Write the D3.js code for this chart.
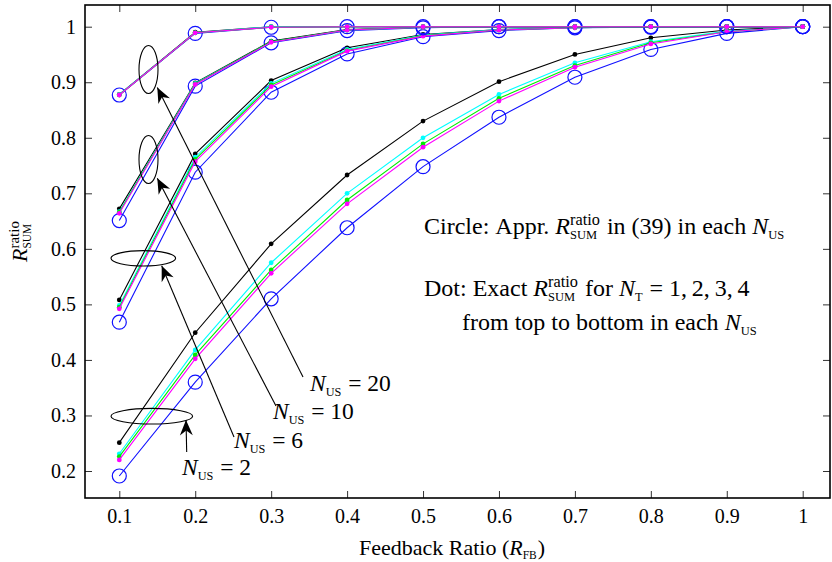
<!DOCTYPE html>
<html>
<head>
<meta charset="utf-8">
<script src="https://cdn.jsdelivr.net/npm/d3@7"></script>
<style>
  body { margin: 0; background: #fff; }
  svg text { font-family: "Liberation Serif", "Tinos", "DejaVu Serif", serif !important; fill: #000; }
</style>
</head>
<body>
<svg id="chart" width="832" height="562"></svg>
<script>
// feedback ratio on the x axis
var feedbackRatio = [0.1, 0.2, 0.3, 0.4, 0.5, 0.6, 0.7, 0.8, 0.9, 1.0];
var yTicks = [0.2, 0.3, 0.4, 0.5, 0.6, 0.7, 0.8, 0.9, 1.0];

// exact values, rows are N_T = 1,2,3,4
var exactNus2 = [
  [0.251, 0.449, 0.609, 0.733, 0.830, 0.901, 0.950, 0.980, 0.994, 1],
  [0.231, 0.418, 0.575, 0.700, 0.800, 0.878, 0.935, 0.973, 0.992, 1],
  [0.226, 0.409, 0.562, 0.688, 0.789, 0.871, 0.930, 0.971, 0.991, 1],
  [0.220, 0.402, 0.556, 0.681, 0.783, 0.866, 0.927, 0.969, 0.991, 1]
];
var exactNus6 = [
  [0.508, 0.771, 0.903, 0.962, 0.986, 0.995, 0.999, 1, 1, 1],
  [0.498, 0.765, 0.898, 0.959, 0.985, 0.995, 0.998, 1, 1, 1],
  [0.495, 0.761, 0.895, 0.957, 0.984, 0.994, 0.998, 1, 1, 1],
  [0.492, 0.757, 0.892, 0.956, 0.983, 0.994, 0.998, 1, 1, 1]
];
var exactNus10 = [
  [0.672, 0.899, 0.974, 0.995, 0.999, 1, 1, 1, 1, 1],
  [0.667, 0.898, 0.973, 0.994, 0.999, 1, 1, 1, 1, 1],
  [0.666, 0.897, 0.973, 0.994, 0.999, 1, 1, 1, 1, 1],
  [0.664, 0.896, 0.972, 0.994, 0.999, 1, 1, 1, 1, 1]
];
var exactNus20 = [
  [0.878, 0.990, 1.000, 1, 1, 1, 1, 1, 1, 1],
  [0.878, 0.989, 1.000, 1, 1, 1, 1, 1, 1, 1],
  [0.877, 0.989, 0.999, 1, 1, 1, 1, 1, 1, 1],
  [0.877, 0.989, 0.999, 1, 1, 1, 1, 1, 1, 1]
];

// approximation (39)
var approxNus2  = [0.191, 0.360, 0.510, 0.638, 0.748, 0.837, 0.909, 0.959, 0.988, 1];
var approxNus6  = [0.468, 0.738, 0.882, 0.951, 0.982, 0.993, 0.998, 0.999, 1, 1];
var approxNus10 = [0.651, 0.893, 0.971, 0.993, 0.998, 1, 1, 1, 1, 1];
var approxNus20 = [0.877, 0.988, 0.999, 1, 1, 1, 1, 1, 1, 1];

var exactColors = ["#000000", "#00ffff", "#00ee00", "#ff00ff"];
var approxColor = "#1010ff";

var svg = d3.select("#chart");
var serif = '"Liberation Serif", "Tinos", "DejaVu Serif", serif';

// plot box
var box = {left: 85, right: 830, top: 5, bottom: 498};
var x = d3.scaleLinear().domain([0.1, 1]).range([119.3, 802.7]);
var y = d3.scaleLinear().domain([0.2, 1]).range([471, 26.7]);

var fmt = function(d) { return d === 1 ? "1" : d.toFixed(1); };

// axes, ticks pointing inward
var xAxis = svg.append("g")
  .attr("transform", "translate(0," + box.bottom + ")")
  .call(d3.axisBottom(x).tickValues(feedbackRatio).tickSize(-7).tickPadding(11).tickFormat(fmt));
var xTop = svg.append("g")
  .attr("transform", "translate(0," + box.top + ")")
  .call(d3.axisTop(x).tickValues(feedbackRatio).tickSize(-7).tickFormat(""));
var yAxis = svg.append("g")
  .attr("transform", "translate(" + box.left + ",0)")
  .call(d3.axisLeft(y).tickValues(yTicks).tickSize(-7).tickPadding(9).tickFormat(fmt));
var yRight = svg.append("g")
  .attr("transform", "translate(" + box.right + ",0)")
  .call(d3.axisRight(y).tickValues(yTicks).tickSize(-7).tickFormat(""));

svg.selectAll(".domain").remove();
svg.selectAll(".tick line").attr("stroke", "#333").attr("stroke-width", 1);
xAxis.selectAll("text").attr("font-family", serif).style("font-size", "20px");
yAxis.selectAll("text").attr("font-family", serif).style("font-size", "20px");

svg.append("rect")
  .attr("x", box.left).attr("y", box.top)
  .attr("width", box.right - box.left).attr("height", box.bottom - box.top)
  .attr("fill", "none").attr("stroke", "#000").attr("stroke-width", 1.6);

var line = d3.line()
  .x(function(d, i) { return x(feedbackRatio[i]); })
  .y(function(d) { return y(d); });

var groups = [
  {exact: exactNus2, approx: approxNus2},
  {exact: exactNus6, approx: approxNus6},
  {exact: exactNus10, approx: approxNus10},
  {exact: exactNus20, approx: approxNus20}
];

var plot = svg.append("g");

groups.forEach(function(g) {
  // approximation: blue line with circles
  plot.append("path")
    .attr("d", line(g.approx))
    .attr("fill", "none").attr("stroke", approxColor).attr("stroke-width", 1.1);
  plot.selectAll(null)
    .data(g.approx)
    .enter().append("circle")
      .attr("cx", function(d, i) { return x(feedbackRatio[i]); })
      .attr("cy", function(d) { return y(d); })
      .attr("r", 7)
      .attr("fill", "none").attr("stroke", approxColor).attr("stroke-width", 1.2);

  // exact: coloured lines with dots
  g.exact.forEach(function(vals, k) {
    plot.append("path")
      .attr("d", line(vals))
      .attr("fill", "none").attr("stroke", exactColors[k]).attr("stroke-width", 1.1);
    plot.selectAll(null)
      .data(vals)
      .enter().append("circle")
        .attr("cx", function(d, i) { return x(feedbackRatio[i]); })
        .attr("cy", function(d) { return y(d); })
        .attr("r", 2.4)
        .attr("fill", exactColors[k]);
  });
});

// text with sub/superscripts, pieces laid out left to right
function mathText(parent, x0, y0, size, parts) {
  var g = parent.append("g");
  var cx = x0;
  parts.forEach(function(p) {
    if (p.sup !== undefined || p.sub !== undefined) {
      var w = 0;
      if (p.sup) {
        var a = g.append("text").attr("x", cx).attr("y", y0 - size * 0.36)
          .style("font-size", (size * 0.68) + "px").text(p.sup);
        w = Math.max(w, a.node().getComputedTextLength());
      }
      if (p.sub) {
        var b = g.append("text").attr("x", cx).attr("y", y0 + size * 0.2)
          .style("font-size", (size * 0.52) + "px").text(p.sub);
        w = Math.max(w, b.node().getComputedTextLength());
      }
      cx += w + 1;
    } else {
      var t = g.append("text").attr("x", cx).attr("y", y0)
        .style("font-size", size + "px")
        .style("font-style", p.it ? "italic" : null)
        .text(p.t.replace(/ /g, "\u00a0"));
      cx += t.node().getComputedTextLength();
    }
  });
  return g;
}

// annotation text
var noteSize = 24;
mathText(svg, 424, 234, noteSize, [
  {t: "Circle: Appr. "}, {t: "R", it: true}, {sup: "ratio", sub: "SUM"},
  {t: " in (39) in each "}, {t: "N", it: true}, {sub: "US"}
]);
mathText(svg, 424, 296, noteSize, [
  {t: "Dot: Exact "}, {t: "R", it: true}, {sup: "ratio", sub: "SUM"},
  {t: " for "}, {t: "N", it: true}, {sub: "T"}, {t: " = 1,\u20092,\u20093,\u20094"}
]);
mathText(svg, 462, 330, noteSize, [
  {t: "from top to bottom in each "}, {t: "N", it: true}, {sub: "US"}
]);

// N_US labels
var nusLabels = [
  {n: "20", x: 310, y: 391},
  {n: "10", x: 273, y: 419},
  {n: "6", x: 234, y: 448},
  {n: "2", x: 182, y: 475}
];
nusLabels.forEach(function(l) {
  mathText(svg, l.x, l.y, 23.5, [{t: "N", it: true}, {sub: "US"}, {t: " = " + l.n}]);
});

// ellipses and arrows
var ellipses = [
  {cx: 148.5, cy: 69.5, rx: 9.5, ry: 24},
  {cx: 148.5, cy: 159.5, rx: 9.5, ry: 24},
  {cx: 143.3, cy: 258.3, rx: 32.3, ry: 7.7},
  {cx: 151.8, cy: 416.2, rx: 40.8, ry: 7.8}
];
svg.selectAll(".ell")
  .data(ellipses)
  .enter().append("ellipse")
    .attr("cx", function(d) { return d.cx; })
    .attr("cy", function(d) { return d.cy; })
    .attr("rx", function(d) { return d.rx; })
    .attr("ry", function(d) { return d.ry; })
    .attr("fill", "none").attr("stroke", "#000").attr("stroke-width", 1.1);

svg.append("defs").append("marker")
  .attr("id", "head")
  .attr("markerUnits", "userSpaceOnUse")
  .attr("markerWidth", 20).attr("markerHeight", 20)
  .attr("viewBox", "-15 -7 17 14")
  .attr("refX", 0).attr("refY", 0)
  .attr("orient", "auto")
  .append("path")
    .attr("d", "M0,0 L-13,-5.5 L-9,0 L-13,5.5 Z")
    .attr("fill", "#000");

var arrows = [
  {x1: 303, y1: 377, x2: 157.3, y2: 87.5},
  {x1: 276, y1: 406, x2: 157.3, y2: 178.3},
  {x1: 234, y1: 437, x2: 161.7, y2: 265.7},
  {x1: 186.7, y1: 452, x2: 186, y2: 420}
];
svg.selectAll(".arr")
  .data(arrows)
  .enter().append("line")
    .attr("x1", function(d) { return d.x1; })
    .attr("y1", function(d) { return d.y1; })
    .attr("x2", function(d) { return d.x2; })
    .attr("y2", function(d) { return d.y2; })
    .attr("stroke", "#000").attr("stroke-width", 1.1)
    .attr("marker-end", "url(#head)");

// axis titles
var xTitle = mathText(svg, 0, 555, 22, [
  {t: "Feedback Ratio ("}, {t: "R", it: true}, {sub: "FB"}, {t: ")"}
]);
var bb = xTitle.node().getBBox();
xTitle.attr("transform", "translate(" + (452 - bb.width / 2) + ",0)");

var yTitle = svg.append("g").attr("transform", "translate(27,262) rotate(-90)");
mathText(yTitle, 0, 0, 22, [{t: "R", it: true}, {sup: "ratio", sub: "SUM"}]);
</script>
</body>
</html>
